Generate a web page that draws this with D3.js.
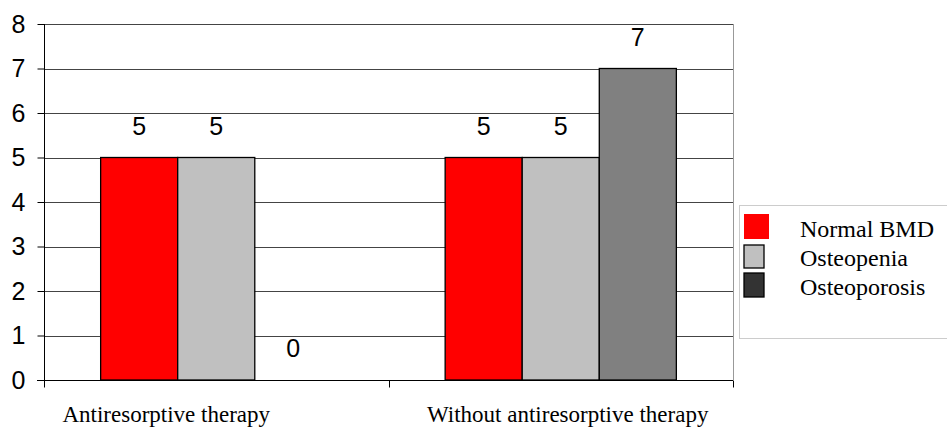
<!DOCTYPE html>
<html><head><meta charset="utf-8">
<script src="https://cdn.jsdelivr.net/npm/d3@7/dist/d3.min.js"></script>
<style>body{margin:0;background:#fff;}svg{display:block;}</style>
</head><body>
<svg id="c" width="947" height="428"></svg>
<script>
const categories = ["Antiresorptive therapy", "Without antiresorptive therapy"];
const seriesNames = ["Normal BMD", "Osteopenia", "Osteoporosis"];
const normalBMD = [5, 5];
const osteopenia = [5, 5];
const osteoporosis = [0, 7];
const yTicks = [0, 1, 2, 3, 4, 5, 6, 7, 8];
const barColors = ["#ff0000", "#c0c0c0", "#808080"];
const legendColors = ["#ff0000", "#c0c0c0", "#333333"];
const values = [normalBMD, osteopenia, osteoporosis];

const svg = d3.select("#c");
const L = 44, R = 733, T = 24, B = 380;
const labelDx = [-50, 7];
const x0 = d3.scaleBand().domain(categories).range([L, R]).paddingInner(0).paddingOuter(0);
const x1 = d3.scaleBand().domain(seriesNames).range([0, x0.bandwidth()]).paddingInner(0).paddingOuter(0.735);
const y = d3.scaleLinear().domain([0, 8]).range([B, T]);

// gridlines
svg.append("g").selectAll("line").data(yTicks.filter(d => d > 0)).join("line")
  .attr("x1", L).attr("x2", R).attr("y1", d => Math.round(y(d)) + 0.5).attr("y2", d => Math.round(y(d)) + 0.5)
  .attr("stroke", "#444").attr("stroke-width", 1);
// right border
svg.append("line").attr("x1", R + 0.5).attr("x2", R + 0.5).attr("y1", T).attr("y2", B)
  .attr("stroke", "#999");

// bars
const gGroups = svg.append("g").selectAll("g").data(categories).join("g")
  .attr("transform", d => `translate(${x0(d)},0)`);
gGroups.each(function(cat, ci) {
  const g = d3.select(this);
  seriesNames.forEach((s, si) => {
    const v = values[si][ci];
    if (v > 0) {
      g.append("rect")
        .attr("x", x1(s)).attr("y", y(v))
        .attr("width", x1.bandwidth()).attr("height", y(0) - y(v))
        .attr("fill", barColors[si]).attr("stroke", "#000").attr("stroke-width", 1.3);
    }
    g.append("text").attr("x", x1(s) + x1.bandwidth() / 2).attr("y", y(v) - 23)
      .attr("text-anchor", "middle").attr("font-family", "Liberation Sans, Arial, sans-serif")
      .attr("font-size", 25).attr("fill", "#000").text(v);
  });
});

// y axis
const yAxis = d3.axisLeft(y).tickValues(yTicks).tickSize(7).tickPadding(12).tickFormat(d3.format("d"));
const ya = svg.append("g").attr("transform", `translate(${L + 0.5},0)`).call(yAxis);
ya.select(".domain").attr("stroke", "#000").attr("d", `M0,${T}V${B}`);
ya.selectAll(".tick line").attr("stroke", "#000");
ya.selectAll(".tick text").attr("font-family", "Liberation Sans, Arial, sans-serif").attr("font-size", 25).attr("fill", "#000");

// x axis
const xa = svg.append("g").attr("transform", `translate(0,${B + 0.5})`);
xa.append("line").attr("x1", L - 7).attr("x2", R).attr("y1", 0).attr("y2", 0).attr("stroke", "#000");
const xTickPos = categories.map(c => x0(c)).concat([x0(categories[categories.length - 1]) + x0.bandwidth()]);
xa.selectAll("line.t").data(xTickPos).join("line").attr("class", "t")
  .attr("x1", d => Math.round(d) + 0.5).attr("x2", d => Math.round(d) + 0.5).attr("y1", 0).attr("y2", 7).attr("stroke", "#000");
xa.selectAll("text").data(categories).join("text")
  .attr("x", (d, i) => x0(d) + x0.bandwidth() / 2 + labelDx[i]).attr("y", 41)
  .attr("text-anchor", "middle").attr("font-family", "Liberation Serif, Times New Roman, serif")
  .attr("font-size", 23).attr("fill", "#000").text(d => d);

// legend
const lg = svg.append("g");
lg.append("rect").attr("x", 739.5).attr("y", 205.5).attr("width", 220).attr("height", 133)
  .attr("fill", "#fff").attr("stroke", "#ccc");
const swY = [214, 245, 273];
const swSize = [[25, 25], [20, 23], [20, 24]];
seriesNames.forEach((s, i) => {
  lg.append("rect").attr("x", 744).attr("y", swY[i]).attr("width", swSize[i][0]).attr("height", swSize[i][1])
    .attr("fill", legendColors[i]).attr("stroke", i === 0 ? "none" : "#000").attr("stroke-width", 1.3);
  lg.append("text").attr("x", 800).attr("y", 237 + i * 29)
    .attr("font-family", "Liberation Serif, Times New Roman, serif").attr("font-size", 24).attr("fill", "#000").text(s);
});
</script>
</body></html>
